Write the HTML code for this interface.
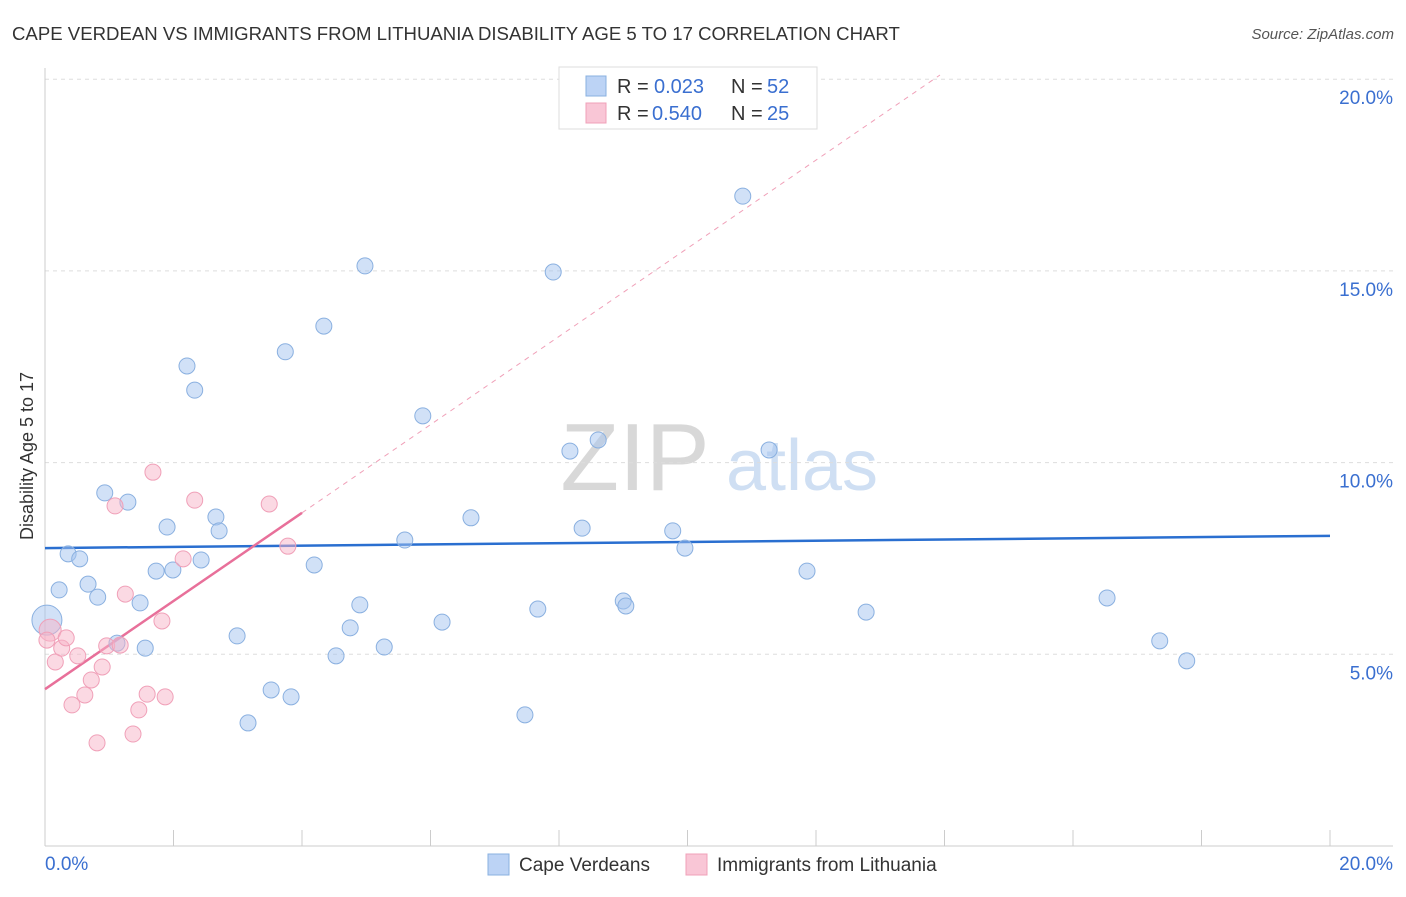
<!DOCTYPE html>
<html><head><meta charset="utf-8"><style>
body{margin:0;background:#fff;font-family:"Liberation Sans",sans-serif}
svg text{font-family:"Liberation Sans",sans-serif}
</style></head><body>
<svg id="c" width="1406" height="892" xmlns="http://www.w3.org/2000/svg">
<text x="12" y="40" font-size="18.6" fill="#333">CAPE VERDEAN VS IMMIGRANTS FROM LITHUANIA DISABILITY AGE 5 TO 17 CORRELATION CHART</text>
<text x="1394" y="39" font-size="15" fill="#555" text-anchor="end" font-style="italic">Source: ZipAtlas.com</text>
<text transform="translate(33,456) rotate(-90)" font-size="18" fill="#333" text-anchor="middle">Disability Age 5 to 17</text>
<g><text x="635" y="490" font-size="96" fill="#d8d8d8" font-family="Liberation Serif" text-anchor="middle">ZIP</text><text x="802" y="490" font-size="72" fill="#cfdff3" text-anchor="middle">atlas</text></g>
<g id="grid"></g><g id="axes"></g><g id="lines"></g><g id="pts"></g>
<g>
<rect x="559" y="67" width="258" height="62" fill="#fff" stroke="#ddd"/>
<rect x="586" y="76" width="20" height="20" fill="#bcd3f5" stroke="#8ab0e0"/>
<rect x="586" y="103" width="20" height="20" fill="#f9c6d6" stroke="#f0a0b8"/>
<text x="617" y="93" font-size="20" fill="#333">R = </text><text x="654" y="93" font-size="20" fill="#3a6fd0">0.023</text>
<text x="731" y="93" font-size="20" fill="#333">N = </text><text x="767" y="93" font-size="20" fill="#3a6fd0">52</text>
<text x="617" y="120" font-size="20" fill="#333">R = </text><text x="652" y="120" font-size="20" fill="#3a6fd0">0.540</text>
<text x="731" y="120" font-size="20" fill="#333">N = </text><text x="767" y="120" font-size="20" fill="#3a6fd0">25</text>
</g>
<g>
<rect x="488" y="854" width="21" height="21" fill="#bcd3f5" stroke="#8ab0e0"/>
<text x="519" y="871" font-size="19" fill="#333">Cape Verdeans</text>
<rect x="686" y="854" width="21" height="21" fill="#f9c6d6" stroke="#f0a0b8"/>
<text x="717" y="871" font-size="19" fill="#333">Immigrants from Lithuania</text>
</g>
</svg>
<script>
const yTicks=[5,10,15,20];
const yTickLabels=["5.0%","10.0%","15.0%","20.0%"];
const xTicks=[0,2,4,6,8,10,12,14,16,18,20];
const blueX=[0.03,0.22,0.36,0.54,0.67,0.82,0.93,1.29,1.12,1.48,1.56,1.73,1.90,1.99,2.21,2.33,2.43,2.66,2.71,2.99,3.16,3.52,3.74,3.83,4.19,4.34,4.53,4.75,4.90,4.98,5.28,5.60,5.88,6.18,6.63,7.47,7.67,7.91,8.17,8.36,8.61,9.00,9.04,9.77,9.96,10.86,11.27,11.86,12.78,16.53,17.35,17.77];
const blueY=[5.89,6.68,7.62,7.49,6.83,6.49,9.21,8.97,5.29,6.34,5.16,7.17,8.32,7.20,12.52,11.89,7.46,8.58,8.22,5.48,3.21,4.07,12.89,3.89,7.33,13.56,4.96,5.69,6.29,15.13,5.19,7.98,11.22,5.84,8.56,3.42,6.18,14.97,10.30,8.29,10.59,6.39,6.26,8.22,7.77,16.95,10.33,7.17,6.10,6.47,5.35,4.83];
const pinkX=[0.08,0.16,0.26,0.33,0.42,0.51,0.62,0.72,0.81,0.89,0.96,1.09,1.17,1.25,1.37,1.46,1.59,1.68,1.82,1.87,2.15,2.33,3.49,3.78,0.03];
const pinkY=[5.63,4.80,5.16,5.43,3.68,4.96,3.94,4.33,2.69,4.67,5.22,8.87,5.24,6.57,2.92,3.55,3.96,9.75,5.87,3.89,7.49,9.02,8.92,7.82,5.37];
const blueLine=[7.77,8.09];
const pinkLine=[4.09,1.15];
const X=v=>45+v/20*1285, Y=v=>846-v/5*191.7;
const NS="http://www.w3.org/2000/svg";
function mk(p,t,a){const e=document.createElementNS(NS,t);for(const k in a)e.setAttribute(k,a[k]);document.getElementById(p).appendChild(e);return e;}
yTicks.forEach((t,i)=>{
 const l=mk('grid','line',{x1:45,x2:1393,y1:Y(t),y2:Y(t),stroke:'#ddd','stroke-dasharray':'4,4'});
 
 
 const tx=mk('grid','text',{x:1393,y:Y(t)+25,'font-size':19,fill:'#3a6fd0','text-anchor':'end'});
 tx.textContent=yTickLabels[i];
 
 
});
const ax=mk('axes','line',{x1:45,x2:45,y1:68,y2:846,stroke:'#ccc'});


const bx=mk('axes','line',{x1:45,x2:1393,y1:846,y2:846,stroke:'#ccc'});


xTicks.forEach(t=>{const l=mk('axes','line',{x1:X(t),x2:X(t),y1:830,y2:846,stroke:'#ccc'});
 
 });
[[0,"0.0%","start",45],[20,"20.0%","end",1393]].forEach(d=>{const t=mk('axes','text',{x:d[3],y:870,'font-size':19,fill:'#3a6fd0','text-anchor':d[2]});t.textContent=d[1];
 
 });
const bl=mk('lines','line',{x1:X(0),x2:X(20),y1:Y(blueLine[0]),y2:Y(blueLine[1]),stroke:'#2a6fd0','stroke-width':2.5});


const pd=mk('lines','line',{x1:X(4),x2:X(13.93),y1:Y(pinkLine[0]+pinkLine[1]*4),y2:Y(pinkLine[0]+pinkLine[1]*13.93),stroke:'#f0a0b8','stroke-width':1,'stroke-dasharray':'5,5'});


const ps=mk('lines','line',{x1:X(0),x2:X(4),y1:Y(pinkLine[0]),y2:Y(pinkLine[0]+pinkLine[1]*4),stroke:'#e8709a','stroke-width':2.5});


blueX.forEach((x,i)=>{const c=mk('pts','circle',{cx:X(x),cy:Y(blueY[i]),r:i==0?15:8,fill:'rgba(164,196,240,0.5)',stroke:'#8ab0e0','stroke-width':1});
 
 });
pinkX.forEach((x,i)=>{const c=mk('pts','circle',{cx:X(x),cy:Y(pinkY[i]),r:i==0?11:8,fill:'rgba(248,180,200,0.5)',stroke:'#f0a0b8','stroke-width':1});
 
 });
</script>
</body></html>
